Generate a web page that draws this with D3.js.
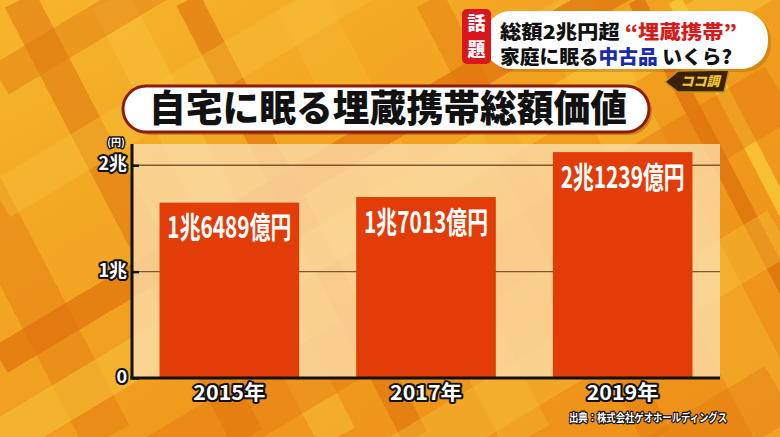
<!DOCTYPE html>
<html><head><meta charset="utf-8">
<script src="https://cdn.jsdelivr.net/npm/d3@7"></script>
<style>
html,body{margin:0;padding:0;background:#f2a41f;}
svg{display:block;}
text{font-family:"Noto Sans CJK JP","Noto Sans",sans-serif;}
</style></head>
<body>
<svg id="c" width="780" height="437"></svg>
<script>
// ---- data ----
const categories = ["2015年", "2017年", "2019年"];
const values = [1.6489, 1.7013, 2.1239]; // 兆円
const valueLabels = ["1兆6489億円", "1兆7013億円", "2兆1239億円"];
const yTicks = [0, 1, 2];
const yTickLabels = ["0", "1兆", "2兆"];
const yUnit = "(円)";
const title = "自宅に眠る埋蔵携帯総額価値";
const source = "出典：株式会社ゲオホールディングス";
const headerTag = ["話", "題"];
const headerLine1 = [["総額2兆円超 ", "#111"], ["“埋蔵携帯”", "#d81a1a"]];
const headerLine2 = [["家庭に眠る", "#111"], ["中古品", "#1a2aa8"], [" いくら?", "#111"]];

const W = 780, H = 437;
const svg = d3.select("#c");

// ---- background plaid ----
const bg = svg.append("g");
const defs = svg.append("defs");
const lg = defs.append("linearGradient").attr("id", "bgGrad").attr("x1", 0).attr("y1", 0).attr("x2", 1).attr("y2", 1);
lg.append("stop").attr("offset", 0).attr("stop-color", "#f6b52c");
lg.append("stop").attr("offset", 0.6).attr("stop-color", "#f09a1c");
lg.append("stop").attr("offset", 1).attr("stop-color", "#ee9018");
bg.append("rect").attr("width", W).attr("height", H).attr("fill", "url(#bgGrad)");
const steep = [[20, 34, "#e07a12", 0.6], [110, 40, "#f8c23a", 0.5], [188, 26, "#e0760e", 0.65],
  [300, 50, "#f6bd35", 0.35], [430, 30, "#e47c10", 0.45], [560, 60, "#f8c43c", 0.35],
  [636, 16, "#dc6e0c", 0.7], [675, 14, "#fbd23c", 0.7], [-120, 50, "#e57f14", 0.5]];
steep.forEach(([x0, w, c, o]) => {
  bg.append("line").attr("x1", x0).attr("y1", 0).attr("x2", x0 + 0.52 * H).attr("y2", H)
    .attr("stroke", c).attr("stroke-width", w).attr("opacity", o);
});
const shallow = [[80, 34, "#e07a12", 0.45], [200, 40, "#f8c23a", 0.4], [360, 30, "#e0720e", 0.7],
  [440, 40, "#f9c83c", 0.5], [560, 60, "#e57810", 0.45], [700, 50, "#f7c038", 0.4], [860, 60, "#e47a10", 0.4]];
shallow.forEach(([y0, w, c, o]) => {
  bg.append("line").attr("x1", 0).attr("y1", y0).attr("x2", W).attr("y2", y0 - 0.6 * W)
    .attr("stroke", c).attr("stroke-width", w).attr("opacity", o);
});

// ---- scales ----
const x = d3.scaleBand().domain(categories).range([132, 720]).paddingInner(0.29).paddingOuter(0.14);
const y = d3.scaleLinear().domain([0, 2.2]).range([378, 144]);

// ---- plot panel ----
svg.append("rect").attr("x", 132).attr("y", y(2.2)).attr("width", 720 - 132).attr("height", y(0) - y(2.2))
  .attr("fill", "#fbdca8").attr("opacity", 0.82);

svg.append("g").selectAll("line").data(yTicks.filter(d => d > 0)).join("line")
  .attr("x1", 132).attr("x2", 720).attr("y1", d => y(d)).attr("y2", d => y(d))
  .attr("stroke", "#7d5630").attr("stroke-width", 1.3);

svg.append("g").selectAll("rect").data(values).join("rect")
  .attr("x", (d, i) => x(categories[i])).attr("width", x.bandwidth())
  .attr("y", d => y(d)).attr("height", d => y(0) - y(d))
  .attr("fill", "#e23c08");

svg.append("g").selectAll("text").data(values).join("text")
  .attr("x", (d, i) => x(categories[i]) + x.bandwidth() / 2)
  .attr("y", d => y(d) + 25).attr("dy", "0.36em")
  .attr("text-anchor", "middle").attr("fill", "#fff")
  .attr("font-size", 30).attr("font-weight", 700)
  .attr("textLength", 124).attr("lengthAdjust", "spacingAndGlyphs")
  .text((d, i) => valueLabels[i]);

// axes
const outlined = sel => sel.attr("fill", "#fff").attr("stroke", "#111").attr("stroke-width", 4)
  .attr("stroke-linejoin", "round").attr("paint-order", "stroke").attr("font-weight", 700);

const yAxis = svg.append("g").attr("transform", "translate(132,0)")
  .call(d3.axisLeft(y).tickValues(yTicks).tickFormat((d, i) => yTickLabels[i]).tickSizeInner(-7).tickSizeOuter(0).tickPadding(5));
yAxis.select(".domain").remove();
yAxis.selectAll(".tick line").attr("stroke", "#111").attr("stroke-width", 2.5);
yAxis.selectAll(".tick text").attr("font-size", 18).attr("font-family", "'Noto Sans CJK JP',sans-serif")
  .attr("dy", "0.25em").call(outlined);
svg.append("line").attr("x1", 132).attr("x2", 132).attr("y1", 144).attr("y2", 379.5)
  .attr("stroke", "#111").attr("stroke-width", 3);
svg.append("text").attr("x", 116).attr("y", 142).attr("dy", "0.35em").attr("text-anchor", "middle")
  .attr("font-size", 10).call(outlined).attr("stroke-width", 3).text(yUnit);

const xAxis = svg.append("g").attr("transform", "translate(0,378)")
  .call(d3.axisBottom(x).tickSize(0).tickPadding(8));
xAxis.select(".domain").remove();
xAxis.selectAll(".tick text").attr("font-size", 20).attr("font-family", "'Noto Sans CJK JP',sans-serif")
  .attr("textLength", 72).attr("lengthAdjust", "spacingAndGlyphs").call(outlined);
svg.append("line").attr("x1", 130.5).attr("x2", 720).attr("y1", 378).attr("y2", 378)
  .attr("stroke", "#111").attr("stroke-width", 3);

svg.append("text").attr("x", 727).attr("y", 418).attr("dy", "0.35em").attr("text-anchor", "end")
  .attr("font-size", 11).attr("textLength", 158).attr("lengthAdjust", "spacingAndGlyphs")
  .call(outlined).attr("stroke-width", 2.5).text(source);

// ---- title banner ----
const tb = svg.append("g");
tb.append("rect").attr("x", 126).attr("y", 89).attr("width", 526).attr("height", 46).attr("rx", 23)
  .attr("fill", "#8a2a10").attr("opacity", 0.35);
tb.append("rect").attr("x", 123).attr("y", 86).attr("width", 526).attr("height", 46).attr("rx", 23)
  .attr("fill", "#fff").attr("stroke", "#8c1c0c").attr("stroke-width", 3);
tb.append("text").attr("x", 388).attr("y", 109).attr("dy", "0.36em").attr("text-anchor", "middle")
  .attr("font-size", 37).attr("font-weight", 900).attr("fill", "#111")
  .attr("textLength", 478).attr("lengthAdjust", "spacingAndGlyphs").text(title);

// ---- header top-right ----
const hd = svg.append("g");
hd.append("rect").attr("x", 487).attr("y", 14).attr("width", 284).attr("height", 58).attr("rx", 27)
  .attr("fill", "#a0500a").attr("opacity", 0.3);
hd.append("rect").attr("x", 484).attr("y", 11).attr("width", 284).attr("height", 58).attr("rx", 27)
  .attr("fill", "#fff");
hd.append("rect").attr("x", 462).attr("y", 9).attr("width", 29).attr("height", 55).attr("rx", 5)
  .attr("fill", "#d8161c");
hd.selectAll("text.tag").data(headerTag).join("text").attr("class", "tag")
  .attr("x", 476.5).attr("y", (d, i) => 24 + i * 26).attr("dy", "0.36em").attr("text-anchor", "middle")
  .attr("font-size", 18).attr("font-weight", 900).attr("fill", "#fff").text(d => d);
const l1 = hd.append("text").attr("x", 500).attr("y", 32).attr("dy", "0.36em")
  .attr("font-size", 19).attr("font-weight", 900).attr("textLength", 237).attr("lengthAdjust", "spacingAndGlyphs");
l1.selectAll("tspan").data(headerLine1).join("tspan").attr("fill", d => d[1]).text(d => d[0]);
const l2 = hd.append("text").attr("x", 500).attr("y", 57).attr("dy", "0.36em")
  .attr("font-size", 19).attr("font-weight", 900).attr("textLength", 232).attr("lengthAdjust", "spacingAndGlyphs");
l2.selectAll("tspan").data(headerLine2).join("tspan").attr("fill", d => d[1]).text(d => d[0]);

const lo = svg.append("g");
lo.append("path").attr("d", "M665,82 L678,71 L729,70 L724,92 L678,92 Z").attr("fill", "#3a2208").attr("stroke", "#c8901a").attr("stroke-width", 1.5);
lo.append("text").attr("x", 700).attr("y", 81).attr("dy", "0.36em").attr("text-anchor", "middle")
  .attr("font-size", 13).attr("font-weight", 900).attr("fill", "#f5c531").attr("font-style", "italic").text("ココ調");
</script>
</body></html>
